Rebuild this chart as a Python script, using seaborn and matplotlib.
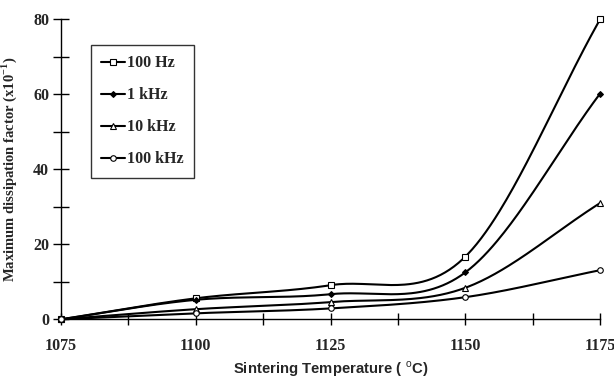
import numpy as np
import pandas as pd
import matplotlib
matplotlib.use("Agg")
import matplotlib.pyplot as plt
from matplotlib.lines import Line2D
from matplotlib.ticker import MultipleLocator
import seaborn as sns

# ---- data ----
temperature = [1075, 1100, 1125, 1150, 1175]
df_100Hz = [0.0, 5.6, 9.1, 16.7, 80.0]
df_1kHz = [0.0, 5.2, 6.7, 12.5, 60.2]
df_10kHz = [0.0, 2.7, 4.6, 8.4, 31.0]
df_100kHz = [0.0, 1.6, 2.9, 5.9, 13.1]
series_labels = ["100 Hz", "1 kHz", "10 kHz", "100 kHz"]
x_ticks = [1075, 1100, 1125, 1150, 1175]
y_ticks = [0, 20, 40, 60, 80]

series_values = [df_100Hz, df_1kHz, df_10kHz, df_100kHz]
markers = ["s", "D", "^", "o"]
mfaces = ["white", "black", "white", "white"]
msizes = [4, 3, 4.2, 4]


def smooth_path(x, y, n=60):
    """Smooth drawing path through the points (Catmull-Rom style)."""
    x = np.asarray(x, float)
    y = np.asarray(y, float)
    k = len(x)
    m = np.zeros(k)
    m[0] = (y[1] - y[0]) / (x[1] - x[0])
    m[-1] = (y[-1] - y[-2]) / (x[-1] - x[-2])
    for i in range(1, k - 1):
        m[i] = (y[i + 1] - y[i - 1]) / (x[i + 1] - x[i - 1])
    xs_all, ys_all = [], []
    for i in range(k - 1):
        h = x[i + 1] - x[i]
        t = np.linspace(0, 1, n, endpoint=(i == k - 2))
        h00 = 2 * t ** 3 - 3 * t ** 2 + 1
        h10 = t ** 3 - 2 * t ** 2 + t
        h01 = -2 * t ** 3 + 3 * t ** 2
        h11 = t ** 3 - t ** 2
        xs_all.append(x[i] + t * h)
        ys_all.append(h00 * y[i] + h10 * h * m[i] + h01 * y[i + 1] + h11 * h * m[i + 1])
    return np.concatenate(xs_all), np.concatenate(ys_all)


sns.set_style("ticks")
plt.rcParams["mathtext.fontset"] = "custom"
plt.rcParams["mathtext.rm"] = "Liberation Serif"
plt.rcParams["mathtext.bf"] = "Liberation Serif:bold"
plt.rcParams["mathtext.sf"] = "Liberation Sans"

fig = plt.figure(figsize=(6.14, 3.76), dpi=100)
ax = fig.add_axes([61 / 614, 1 - 319.3 / 376, (600 - 61) / 614, (319.3 - 19.5) / 376])

rows_curve = []
rows_pts = []
for lab, vals in zip(series_labels, series_values):
    xs, ys = smooth_path(temperature, vals)
    for a, b in zip(xs, ys):
        rows_curve.append({"T": a, "v": b, "f": lab})
    for a, b in zip(temperature, vals):
        rows_pts.append({"T": a, "v": b, "f": lab})
curve = pd.DataFrame(rows_curve)
pts = pd.DataFrame(rows_pts)

palette = {lab: "black" for lab in series_labels}
sns.lineplot(data=curve, x="T", y="v", hue="f", palette=palette, ax=ax,
             linewidth=1.5, legend=False, sort=False, estimator=None)
for line in ax.lines:
    line.set_clip_on(False)

for lab, mk, fc, ms in zip(series_labels, markers, mfaces, msizes):
    sub = pts[pts["f"] == lab]
    ax.plot(sub["T"], sub["v"], linestyle="none", marker=mk, markersize=ms,
            markerfacecolor=fc, markeredgecolor="black", markeredgewidth=0.8,
            clip_on=False, zorder=5)

ax.set_xlim(1075, 1175)
ax.set_ylim(0, 80)
ax.set_xticks(x_ticks)
ax.set_yticks(y_ticks)
ax.xaxis.set_minor_locator(MultipleLocator(12.5))
ax.yaxis.set_minor_locator(MultipleLocator(10))
ax.tick_params(axis="both", which="both", direction="inout", color="black", width=1)
ax.tick_params(axis="y", which="both", length=11)
ax.tick_params(axis="x", which="both", length=9)
ax.tick_params(axis="x", pad=9)
ax.tick_params(axis="y", pad=3)
for lbl in ax.get_xticklabels() + ax.get_yticklabels():
    lbl.set_fontfamily("Liberation Serif")
    lbl.set_fontweight("bold")
    lbl.set_fontsize(11.5)

sns.despine(ax=ax)
for s in ["left", "bottom"]:
    ax.spines[s].set_color("black")
    ax.spines[s].set_linewidth(1)

ax.set_xlabel(r"Sintering Temperature ( $^{\mathsf{o}}$C)", fontfamily="Liberation Sans",
              fontweight="bold", fontsize=10.7)
ax.xaxis.set_label_coords(0.5, -(369 - 319.3) / 299.8, transform=ax.transAxes)
ax.xaxis.label.set_va("center")
ax.set_ylabel(r"Maximum dissipation factor (x10$^{\mathbf{-1}}$)", fontfamily="Liberation Serif",
              fontweight="bold", fontsize=10.5, labelpad=10)

handles = [Line2D([0], [0], color="black", linewidth=1.5, marker=mk, markersize=ms,
                  markerfacecolor=fc, markeredgecolor="black", markeredgewidth=0.8)
           for mk, fc, ms in zip(markers, mfaces, msizes)]
leg = ax.legend(handles, series_labels, loc="upper left", bbox_to_anchor=(29.7 / 539, 1 - 25.5 / 299.8),
                frameon=True, fancybox=False, edgecolor="black", handlelength=1.5,
                handletextpad=0.15, labelspacing=1.0, borderpad=0.65, borderaxespad=0,
                prop={"family": "Liberation Serif", "weight": "bold", "size": 11.5})
leg.get_frame().set_linewidth(1)

fig.savefig("out.png", dpi=100)
